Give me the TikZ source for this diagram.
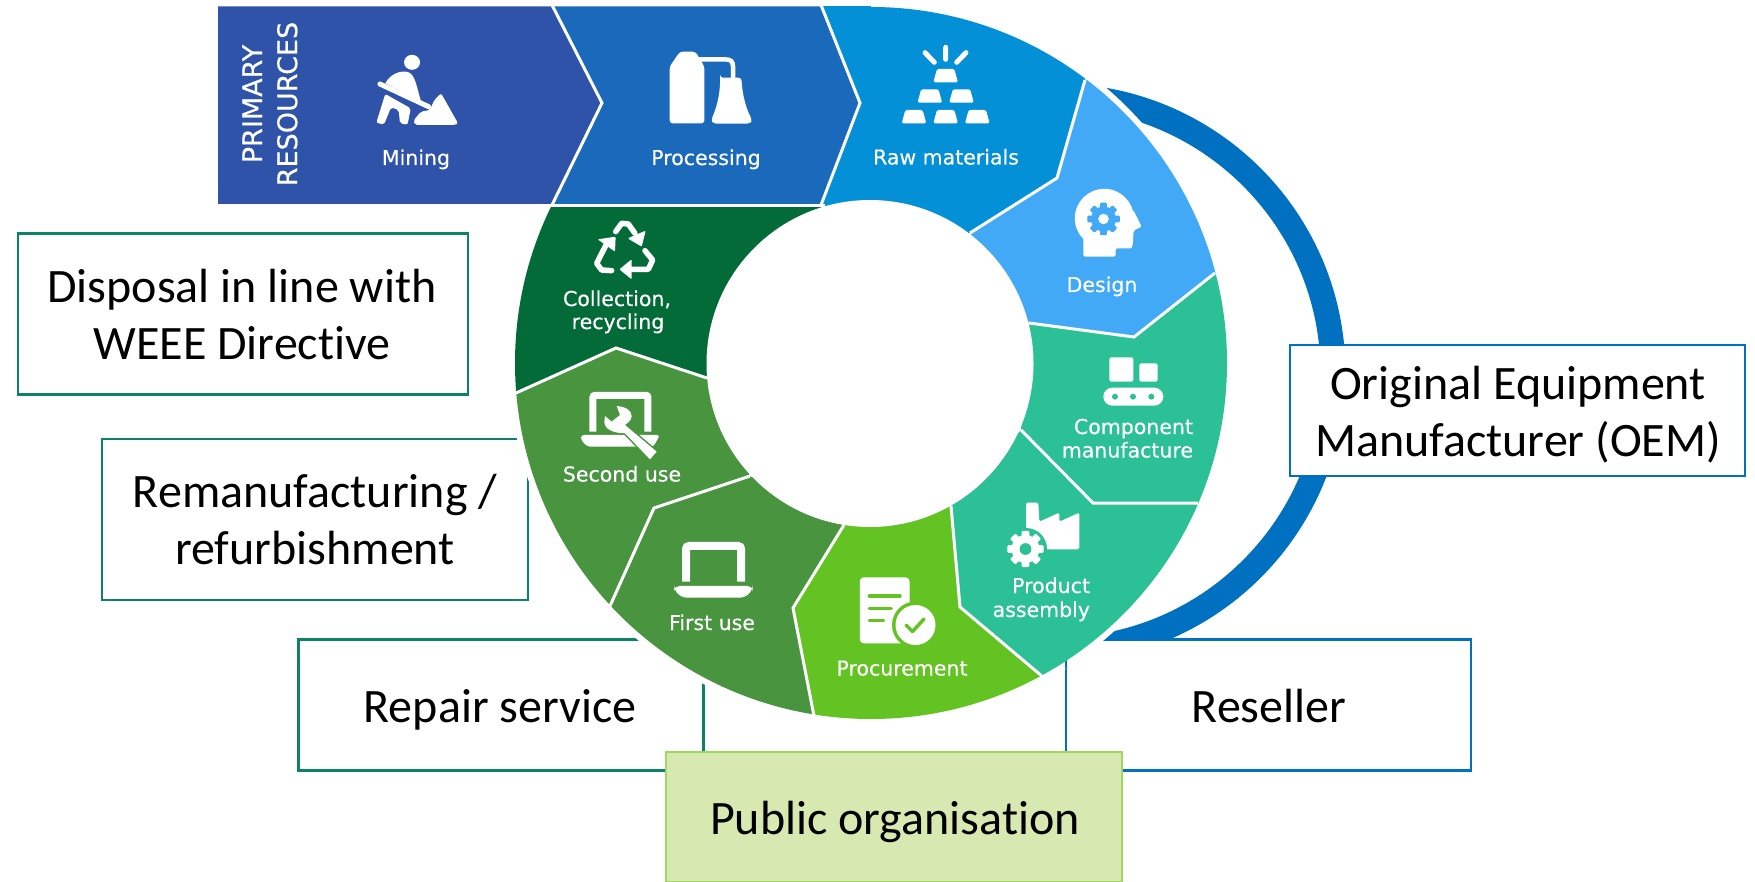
\documentclass[tikz,border=0pt]{standalone}
\usepackage{fontspec}
\setmainfont[Ligatures=NoCommon]{Carlito}
\newfontfamily\labfont[FakeBold=0.35]{DejaVu Sans}
\definecolor{cMining}{HTML}{2E53A8}
\definecolor{cProc}{HTML}{1A69BA}
\definecolor{cRaw}{HTML}{0490D6}
\definecolor{cDesign}{HTML}{42A9F6}
\definecolor{cTeal}{HTML}{2BC096}
\definecolor{cPurch}{HTML}{63C322}
\definecolor{cUse}{HTML}{48943F}
\definecolor{cColl}{HTML}{036B38}
\definecolor{cBlue}{HTML}{0070C0}
\definecolor{cBox}{HTML}{0C8367}
\definecolor{cPubF}{HTML}{D7E9B1}
\definecolor{cPubL}{HTML}{A0D662}
\newcommand{\gearicon}[5]{%
\begin{scope}[shift={(#1,#2)}]
\foreach \a in {0,45,...,315}{\fill[#4,rotate=\a,rounded corners=1pt] (-0.27*#3,0) rectangle (0.27*#3,1.3*#3);}
\fill[#4] (0,0) circle[radius=#3 pt];
\fill[#5] (0,0) circle[radius=0.42*#3 pt];
\end{scope}}
\tikzset{
 every node/.style={inner sep=0pt,outer sep=0pt},
 lab/.style={text=white,font=\labfont\fontsize{20.5}{24}\selectfont,anchor=base},
 labr/.style={lab,anchor=base east},
 boxtext/.style={font=\fontsize{48}{57}\selectfont,align=center,text=black},
 boxed/.style={draw,line width=2.6pt,fill=white},
 teal box/.style={boxed,draw=cBox},
 blue box/.style={boxed,draw=cBlue},
 sep/.style={draw=white,line width=3pt,line join=miter},
 icon a/.style={shift={(200,0)},x=0.4464pt,y=-0.3333pt},
 icon b/.style={shift={(800,0)},x=0.3333pt,y=-0.3333pt},
 icon c/.style={shift={(950,340)},x=0.3333pt,y=-0.3333pt},
 icon d/.style={shift={(500,200)},x=0.3333pt,y=-0.3333pt},
 icon e/.style={shift={(500,470)},x=0.3827pt,y=-0.3333pt},
}
\begin{document}
\begin{tikzpicture}[x=1pt,y=-1pt]
\useasboundingbox (0,0) rectangle (1755,882);
% side boxes behind the wheel
\node[teal box,minimum width=450pt,minimum height=161pt] (disposal) at (243,314) {};
\node[boxtext] (disposalt) at (242,315) {Disposal in line with\\WEEE Directive};
\node[teal box,minimum width=426pt,minimum height=161pt] (reman) at (315,519.5) {};
\node[boxtext] (remant) at (315,520) {Remanufacturing /\\refurbishment};
\node[teal box,minimum width=405pt,minimum height=131pt] (repair) at (501,705) {};
\node[boxtext] (repairt) at (500,710) {Repair service};
\node[blue box,minimum width=405pt,minimum height=131pt] (reseller) at (1268.5,705) {};
\node[boxtext] (resellert) at (1269,706) {Reseller};
% blue arc
\begin{scope}
\clip (1000,0) rectangle (1400,639);
\draw[cBlue,line width=25pt] (1056,373) circle[radius=277pt];
\end{scope}
\fill[white] (871,363) circle[radius=362pt];
\draw[draw=cBlue,line width=2.6pt] (1066,668) -- (1066,640);
% wheel
\begin{scope}
\clip (871,363) circle[radius=356pt];
\fill[cRaw] (800,-10) -- (1100,-10) -- (1085,80) -- (1057,178) -- (970,233) -- (800,233) -- cycle;
\fill[cDesign] (1085,80) -- (1300,80) -- (1300,273) -- (1215,273) -- (1134,337) -- (1029,323) -- (970,233) -- (1057,178) -- cycle;
\fill[cTeal] (1215,273) -- (1300,273) -- (1300,503) -- (1093,503) -- (1021,430) -- (1029,323) -- (1134,337) -- cycle;
\fill[cTeal] (1198,503) -- (1300,503) -- (1300,620) -- (1043,677) -- (960,607) -- (951,506) -- (1021,430) -- (1093,503) -- cycle;
\fill[cPurch] (1043,677) -- (1060,760) -- (814,760) -- (814,716) -- (793,608) -- (844,525) -- (951,506) -- (960,607) -- cycle;
\fill[cUse] (610,606) -- (654,508) -- (750,476) -- (844,525) -- (793,608) -- (814,716) -- (814,760) -- (560,760) -- cycle;
\fill[cUse] (500,393) -- (516,393) -- (616,348) -- (707,378) -- (750,476) -- (654,508) -- (610,606) -- (500,606) -- cycle;
\fill[cColl] (500,207) -- (840,207) -- (740,378) -- (707,378) -- (616,348) -- (516,393) -- (500,393) -- cycle;
\end{scope}
\fill[cRaw] (822,6.5) -- (871,6.5) -- (871,14) -- (822,14) -- cycle;
\fill[white] (870,363.5) circle[radius=163.5pt];
\draw[sep] (1085,80) -- (1057,178) -- (970,233);
\draw[sep] (1215,273) -- (1134,337) -- (1029,323);
\draw[sep] (1198,503) -- (1093,503) -- (1021,430);
\draw[sep] (1043,677) -- (960,607) -- (951,506);
\draw[sep] (814,716) -- (793,608) -- (844,525);
\draw[sep] (610,606) -- (654,508) -- (750,476);
\draw[sep] (516,393) -- (616,348) -- (707,378);
% chevrons
\fill[cProc] (552,6.5) -- (821,6.5) -- (860,103) -- (821,204) -- (552,204) -- (602,103) -- cycle;
\fill[cMining] (218,6.5) -- (552,6.5) -- (602,103) -- (552,204) -- (218,204) -- cycle;
\draw[sep] (552,5) -- (602,103) -- (552,205);
\draw[sep] (821,5) -- (860,103) -- (821,205);
\fill[white] (552,204.5) rectangle (825,207);
% OEM and public boxes in front
\node[blue box,minimum width=455pt,minimum height=131pt] (oem) at (1517.5,410.5) {};
\node[boxtext] (oemt) at (1518,415) {Original Equipment\\Manufacturer (OEM)};
\node[boxed,draw=cPubL,fill=cPubF,minimum width=456pt,minimum height=130pt] (public) at (894,817) {};
\node[boxtext] (publict) at (895,822) {Public organisation};
% labels
\node[lab] (l1) at (416,165) {Mining};
\node[lab] (l2) at (706,165) {Processing};
\node[lab] (l3) at (946,164.5) {Raw materials};
\node[lab] (l4) at (1102,292) {Design};
\node[labr] (l5a) at (1193,434) {Component};
\node[labr] (l5b) at (1193,457.5) {manufacture};
\node[labr] (l6a) at (1090,593) {Product};
\node[labr] (l6b) at (1090,617) {assembly};
\node[lab] (l7) at (902,675.5) {Procurement};
\node[lab] (l8) at (712,630) {First use};
\node[lab] (l9) at (622,481.5) {Second use};
\node[lab] (l10a) at (617,306) {Collection,};
\node[lab] (l10b) at (618,329) {recycling};
\node[text=white,font=\labfont\fontsize{27}{35}\selectfont,align=center,rotate=90] (prim) at (270,104) {PRIMARY\\RESOURCES};
% mining icon
\begin{scope}[icon a]
\fill[white] (475,187) ellipse[x radius=8pt,y radius=7.5pt];
\fill[white] (415,250) .. controls (425,225) and (445,212) .. (462,215) .. controls (480,220) and (482,240) .. (495,305) -- cycle;
\draw[white,line width=5pt,line cap=round] (403,252) -- (512,320);
\fill[white,rounded corners=2pt] (415,282) -- (395,368) -- (412,374) -- (428,322) -- (445,330) -- (448,370) -- (465,374) -- (472,325) -- cycle;
\fill[white,rounded corners=2pt] (540,280) -- (578,370) -- (572,375) -- (482,375) -- (478,362) -- (495,335) -- (515,330) -- (525,300) -- cycle;
\end{scope}
% processing icon
\begin{scope}[icon a]
\fill[white,rounded corners=3pt] (1075,155) -- (1110,155) -- (1130,200) -- (1130,370) -- (1052,370) -- (1052,200) -- cycle;
\draw[white,line width=4.5pt] (1110,178) -- (1175,178) .. controls (1190,178) and (1194,185) .. (1194,200) -- (1194,240);
\fill[white,rounded corners=3pt] (1165,233) -- (1213,233) .. controls (1215,290) and (1225,330) .. (1237,360) -- (1232,371) -- (1150,371) -- (1145,360) .. controls (1155,330) and (1165,290) .. (1165,233) -- cycle;
\end{scope}
% raw materials icon
\begin{scope}[icon b]
\foreach \dx/\dy in {0/0,-47.5/61,47.5/61,-95/123,0/123,95/123}{
\fill[white,rounded corners=1.5pt,shift={(\dx,\dy)}] (411,207) -- (463,207) -- (474,247) -- (400,247) -- cycle;}
\draw[white,line width=5pt,line cap=round] (437,142) -- (437,178) (375,158) -- (403,187) (498,158) -- (470,187);
\end{scope}
% design icon
\begin{scope}[icon b]
\fill[white,rounded corners=2pt] (850,720) -- (850,770) -- (947,770) -- (947,745) -- (985,745) .. controls (997,745) and (1000,735) .. (1000,692) -- (1025,680) -- (1000,630) -- (930,600) -- (850,620) -- cycle;
\fill[white] (913,655) circle[radius=29.5pt];
\end{scope}
\gearicon{1103.5}{219}{12.5}{cDesign}{white}
% component icon
\begin{scope}[icon c]
\fill[white,rounded corners=2pt] (478,52) rectangle (550,125);
\fill[white,rounded corners=2pt] (568,70) rectangle (623,125);
\fill[white,rounded corners=9pt] (460,143) rectangle (640,197);
\foreach \X in {495,549,604}{\fill[cTeal] (\X,170) circle[radius=3pt];}
\end{scope}
% product icon
\begin{scope}[icon c]
\fill[white,rounded corners=1.5pt] (228,488) -- (265,488) -- (268,545) -- (328,518) -- (328,545) -- (388,518) -- (388,628) -- (228,628) -- cycle;
\end{scope}
\fill[cTeal] (1026,549) circle[radius=21pt];
\gearicon{1025.5}{549}{14}{white}{cTeal}
% procurement icon
\begin{scope}[icon e]
\fill[white,rounded corners=4pt] (940,322) rectangle (1070,520);
\draw[cPurch,line width=3.5pt,line cap=round] (965,378) -- (1045,378) (965,415) -- (1022,415) (965,452) -- (1002,452);
\end{scope}
\fill[cPurch] (915.5,625) circle[radius=23.5pt];
\fill[white] (915.5,625) circle[radius=20pt];
\draw[cPurch,line width=3.5pt,line cap=round,line join=round] (906,625) -- (912.5,631.5) -- (924,619);
% first use icon
\begin{scope}[icon e]
\draw[white,line width=8pt,rounded corners=3pt] (486,335) -- (486,228) -- (630,228) -- (630,335);
\fill[white,rounded corners=5pt] (455,348) -- (660,348) -- (660,360) -- (640,383) -- (475,383) -- (455,360) -- cycle;
\end{scope}
% second use icon
\begin{scope}[icon d]
\draw[white,line width=7pt,rounded corners=2pt] (279,695) -- (279,586) -- (444,586) -- (444,695);
\fill[white,rounded corners=3pt] (243,705) -- (480,705) -- (460,740) -- (262,740) -- (243,720) -- cycle;
\path[draw=cUse,fill=white,line width=3pt,line join=round] (350,618) .. controls (375,620) and (395,630) .. (395,648) .. controls (395,660) and (385,668) .. (375,675) -- (470,755) -- (450,778) -- (375,700) .. controls (345,700) and (313,690) .. (313,665) -- (315,648) -- (335,665) -- (360,645) -- cycle;
\fill[white] (350,618) .. controls (375,620) and (395,630) .. (395,648) .. controls (395,660) and (385,668) .. (375,675) -- (470,755) -- (450,778) -- (375,700) .. controls (345,700) and (313,690) .. (313,665) -- (315,648) -- (335,665) -- (360,645) -- cycle;
\end{scope}
% collection icon
\begin{scope}[icon d]
\draw[white,line width=5.5pt,line cap=round,line join=round] (347,95) -- (365,70) -- (385,72) -- (405,100);
\fill[white,rounded corners=1pt] (437,92) -- (425,140) -- (383,115) -- cycle;
\draw[white,line width=5.5pt,line cap=round,line join=round] (335,212) -- (305,210) -- (290,190) -- (318,135);
\fill[white,rounded corners=1pt] (293,118) -- (347,110) -- (345,155) -- cycle;
\draw[white,line width=5.5pt,line cap=round,line join=round] (435,152) -- (458,180) -- (445,208) -- (390,208);
\fill[white,rounded corners=1pt] (395,178) -- (358,208) -- (395,238) -- cycle;
\end{scope}
\end{tikzpicture}
\end{document}
